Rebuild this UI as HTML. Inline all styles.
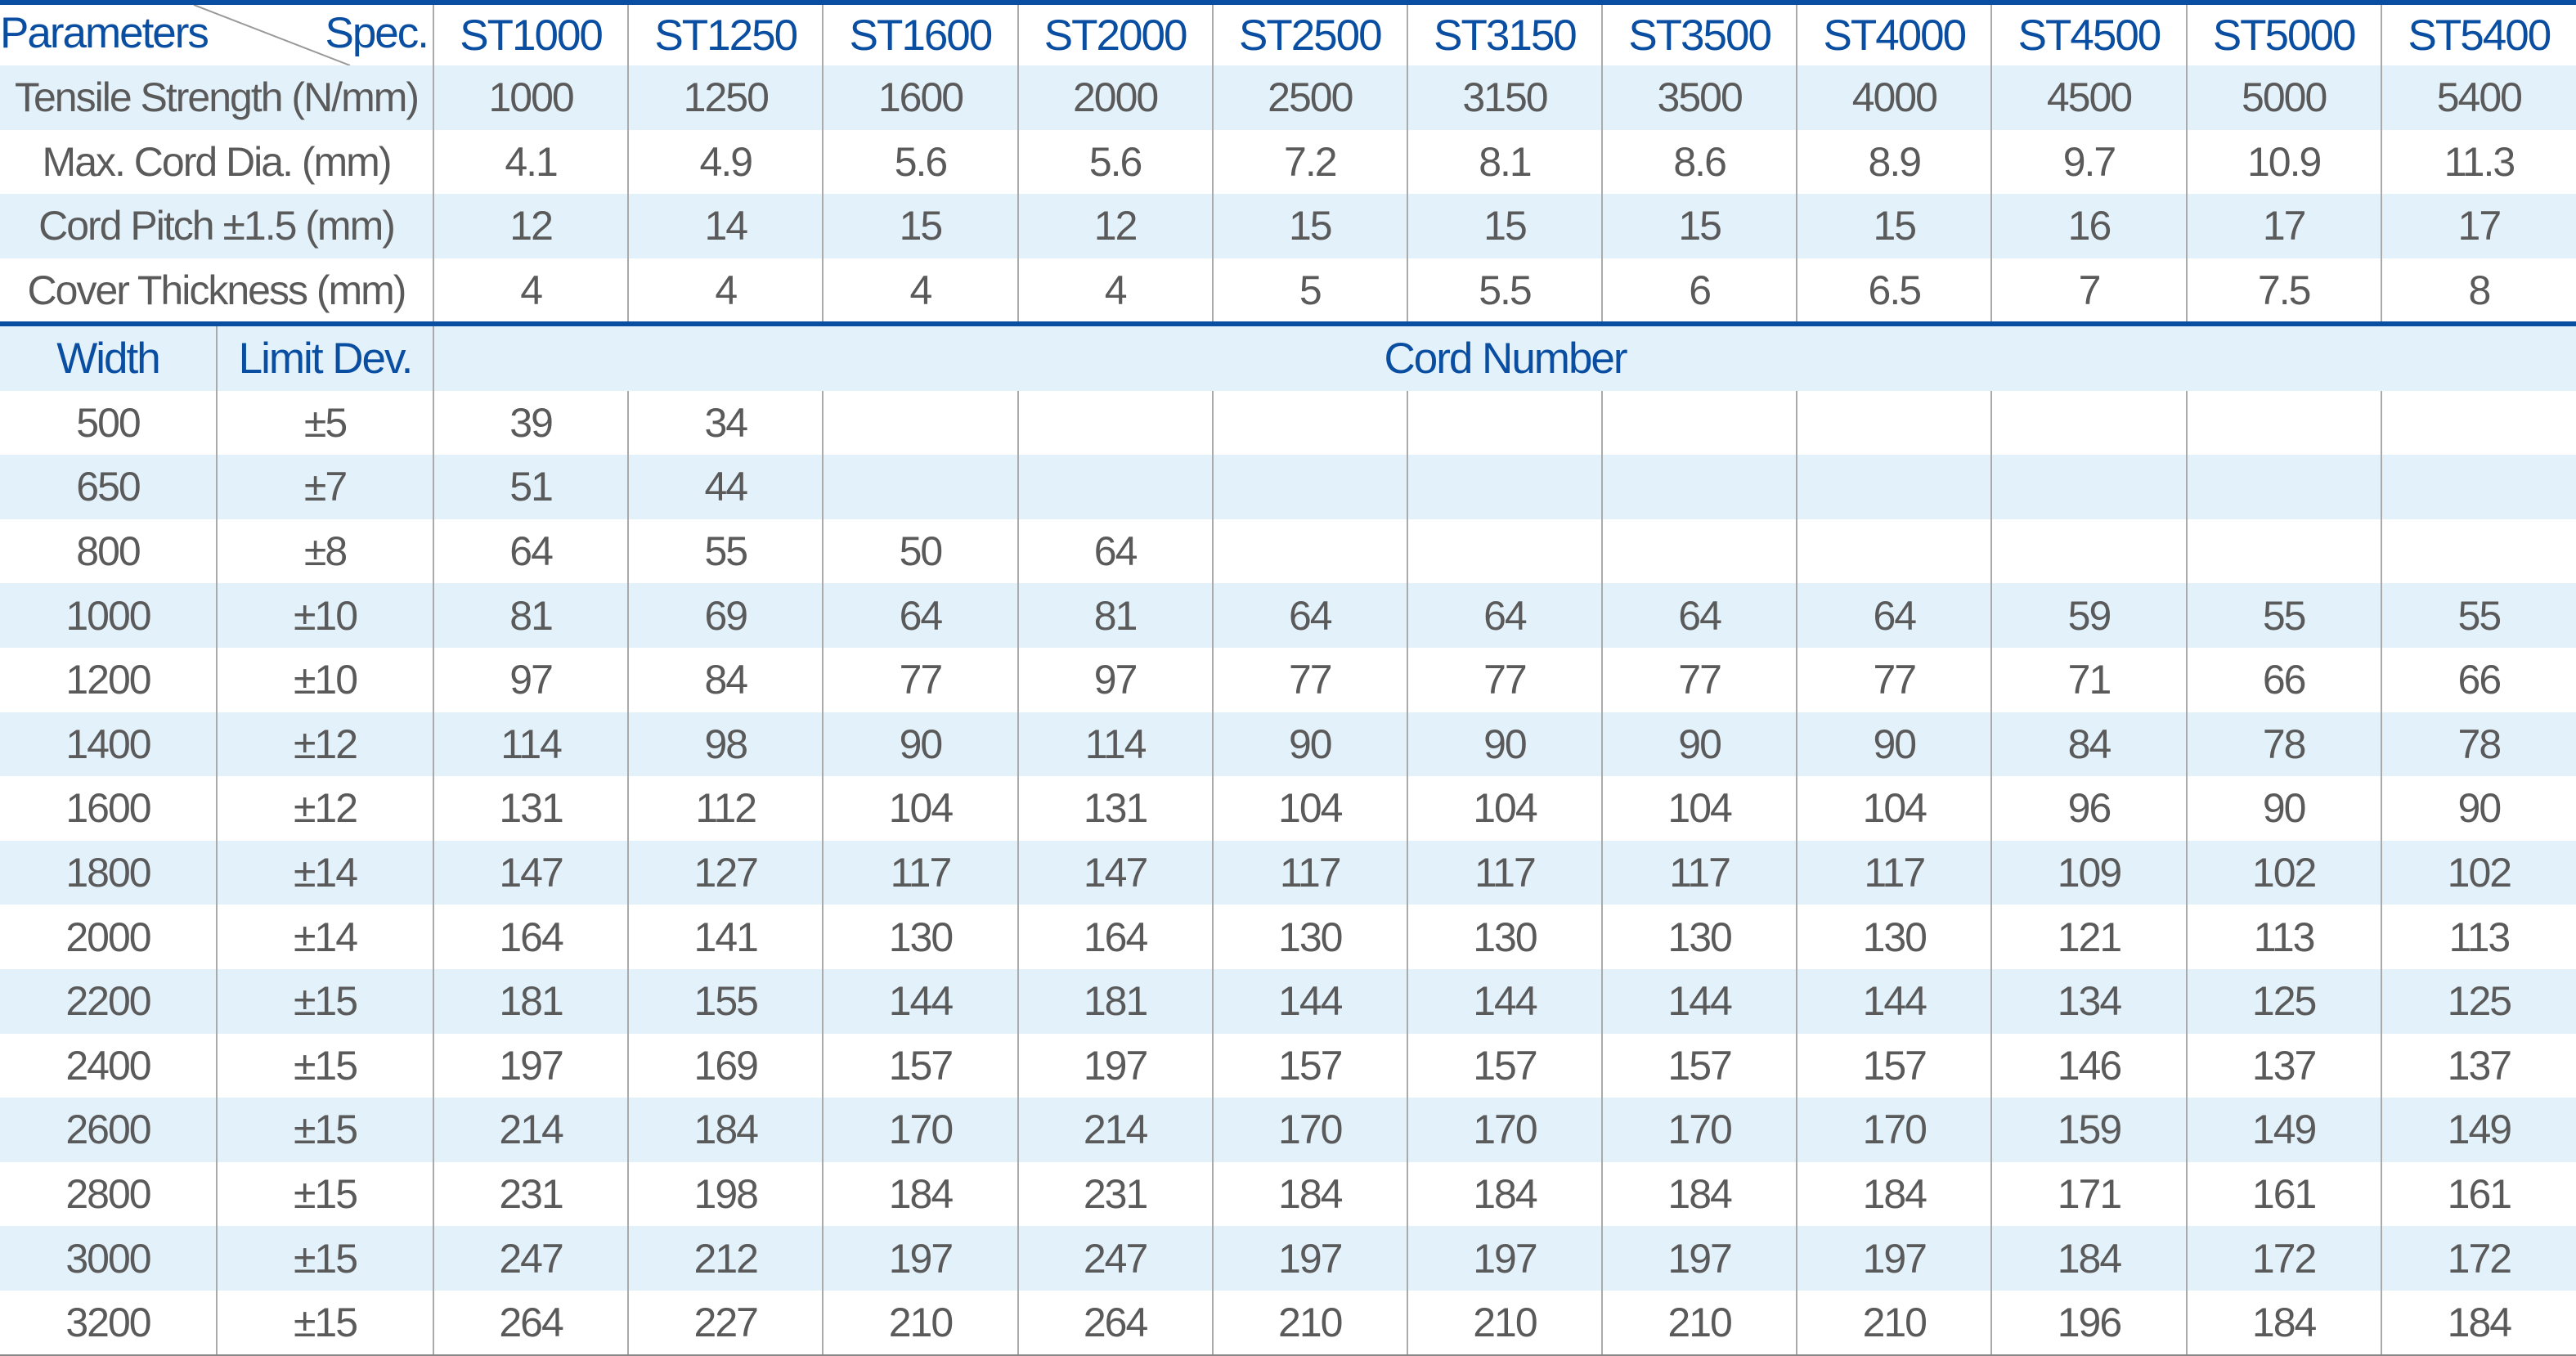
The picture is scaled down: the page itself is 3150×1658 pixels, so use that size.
<!DOCTYPE html>
<html><head><meta charset="utf-8"><style>
html,body{margin:0;padding:0;background:#fff;}
body{width:3150px;height:1657px;overflow:hidden;position:relative;font-family:"Liberation Sans",sans-serif;}
table{position:absolute;left:0;width:3150px;border-collapse:collapse;table-layout:fixed;}
td{padding:0;text-align:center;color:#5a5a5a;font-size:50px;letter-spacing:-2px;white-space:nowrap;border-left:2px solid #aaa;overflow:hidden;}
td:first-child{border-left:none;}
.b td{background:#e3f1fa;}
.h td{color:#0a4ea2;font-size:53px;letter-spacing:-2px;}
#t1{top:6px;}
#t1 tr{height:78.5px;}
#t1 tr.h{height:74px;}
#t2{top:399px;}
#t2 tr{height:78.6px;}
#t2 tr:last-child td{border-bottom:2px solid #888;}
.bar{position:absolute;left:0;width:3150px;background:#0a4ea2;}
</style></head><body>
<div class="bar" style="top:0;height:6px"></div>
<table id="t1">
<colgroup><col style="width:530px"><col span="11" style="width:238.18px"></colgroup>
<tr class="h"><td style="position:relative;text-align:left"><span style="position:absolute;left:0;top:4px">Parameters</span><span style="position:absolute;right:6px;top:4px">Spec.</span><svg style="position:absolute;left:0;top:0" width="530" height="74"><line x1="237" y1="0" x2="428" y2="74" stroke="#999" stroke-width="2"/></svg></td><td>ST1000</td><td>ST1250</td><td>ST1600</td><td>ST2000</td><td>ST2500</td><td>ST3150</td><td>ST3500</td><td>ST4000</td><td>ST4500</td><td>ST5000</td><td>ST5400</td></tr>
<tr class="b"><td>Tensile Strength (N/mm)</td><td>1000</td><td>1250</td><td>1600</td><td>2000</td><td>2500</td><td>3150</td><td>3500</td><td>4000</td><td>4500</td><td>5000</td><td>5400</td></tr>
<tr><td>Max. Cord Dia. (mm)</td><td>4.1</td><td>4.9</td><td>5.6</td><td>5.6</td><td>7.2</td><td>8.1</td><td>8.6</td><td>8.9</td><td>9.7</td><td>10.9</td><td>11.3</td></tr>
<tr class="b"><td>Cord Pitch ±1.5 (mm)</td><td>12</td><td>14</td><td>15</td><td>12</td><td>15</td><td>15</td><td>15</td><td>15</td><td>16</td><td>17</td><td>17</td></tr>
<tr><td>Cover Thickness (mm)</td><td>4</td><td>4</td><td>4</td><td>4</td><td>5</td><td>5.5</td><td>6</td><td>6.5</td><td>7</td><td>7.5</td><td>8</td></tr>
</table>
<div class="bar" style="top:393px;height:6px"></div>
<table id="t2">
<colgroup><col style="width:265px"><col style="width:265px"><col span="11" style="width:238.18px"></colgroup>
<tr class="h b"><td>Width</td><td>Limit Dev.</td><td colspan="11">Cord Number</td></tr>
<tr><td>500</td><td>±5</td><td>39</td><td>34</td><td></td><td></td><td></td><td></td><td></td><td></td><td></td><td></td><td></td></tr>
<tr class="b"><td>650</td><td>±7</td><td>51</td><td>44</td><td></td><td></td><td></td><td></td><td></td><td></td><td></td><td></td><td></td></tr>
<tr><td>800</td><td>±8</td><td>64</td><td>55</td><td>50</td><td>64</td><td></td><td></td><td></td><td></td><td></td><td></td><td></td></tr>
<tr class="b"><td>1000</td><td>±10</td><td>81</td><td>69</td><td>64</td><td>81</td><td>64</td><td>64</td><td>64</td><td>64</td><td>59</td><td>55</td><td>55</td></tr>
<tr><td>1200</td><td>±10</td><td>97</td><td>84</td><td>77</td><td>97</td><td>77</td><td>77</td><td>77</td><td>77</td><td>71</td><td>66</td><td>66</td></tr>
<tr class="b"><td>1400</td><td>±12</td><td>114</td><td>98</td><td>90</td><td>114</td><td>90</td><td>90</td><td>90</td><td>90</td><td>84</td><td>78</td><td>78</td></tr>
<tr><td>1600</td><td>±12</td><td>131</td><td>112</td><td>104</td><td>131</td><td>104</td><td>104</td><td>104</td><td>104</td><td>96</td><td>90</td><td>90</td></tr>
<tr class="b"><td>1800</td><td>±14</td><td>147</td><td>127</td><td>117</td><td>147</td><td>117</td><td>117</td><td>117</td><td>117</td><td>109</td><td>102</td><td>102</td></tr>
<tr><td>2000</td><td>±14</td><td>164</td><td>141</td><td>130</td><td>164</td><td>130</td><td>130</td><td>130</td><td>130</td><td>121</td><td>113</td><td>113</td></tr>
<tr class="b"><td>2200</td><td>±15</td><td>181</td><td>155</td><td>144</td><td>181</td><td>144</td><td>144</td><td>144</td><td>144</td><td>134</td><td>125</td><td>125</td></tr>
<tr><td>2400</td><td>±15</td><td>197</td><td>169</td><td>157</td><td>197</td><td>157</td><td>157</td><td>157</td><td>157</td><td>146</td><td>137</td><td>137</td></tr>
<tr class="b"><td>2600</td><td>±15</td><td>214</td><td>184</td><td>170</td><td>214</td><td>170</td><td>170</td><td>170</td><td>170</td><td>159</td><td>149</td><td>149</td></tr>
<tr><td>2800</td><td>±15</td><td>231</td><td>198</td><td>184</td><td>231</td><td>184</td><td>184</td><td>184</td><td>184</td><td>171</td><td>161</td><td>161</td></tr>
<tr class="b"><td>3000</td><td>±15</td><td>247</td><td>212</td><td>197</td><td>247</td><td>197</td><td>197</td><td>197</td><td>197</td><td>184</td><td>172</td><td>172</td></tr>
<tr><td>3200</td><td>±15</td><td>264</td><td>227</td><td>210</td><td>264</td><td>210</td><td>210</td><td>210</td><td>210</td><td>196</td><td>184</td><td>184</td></tr>
</table>
</body></html>
